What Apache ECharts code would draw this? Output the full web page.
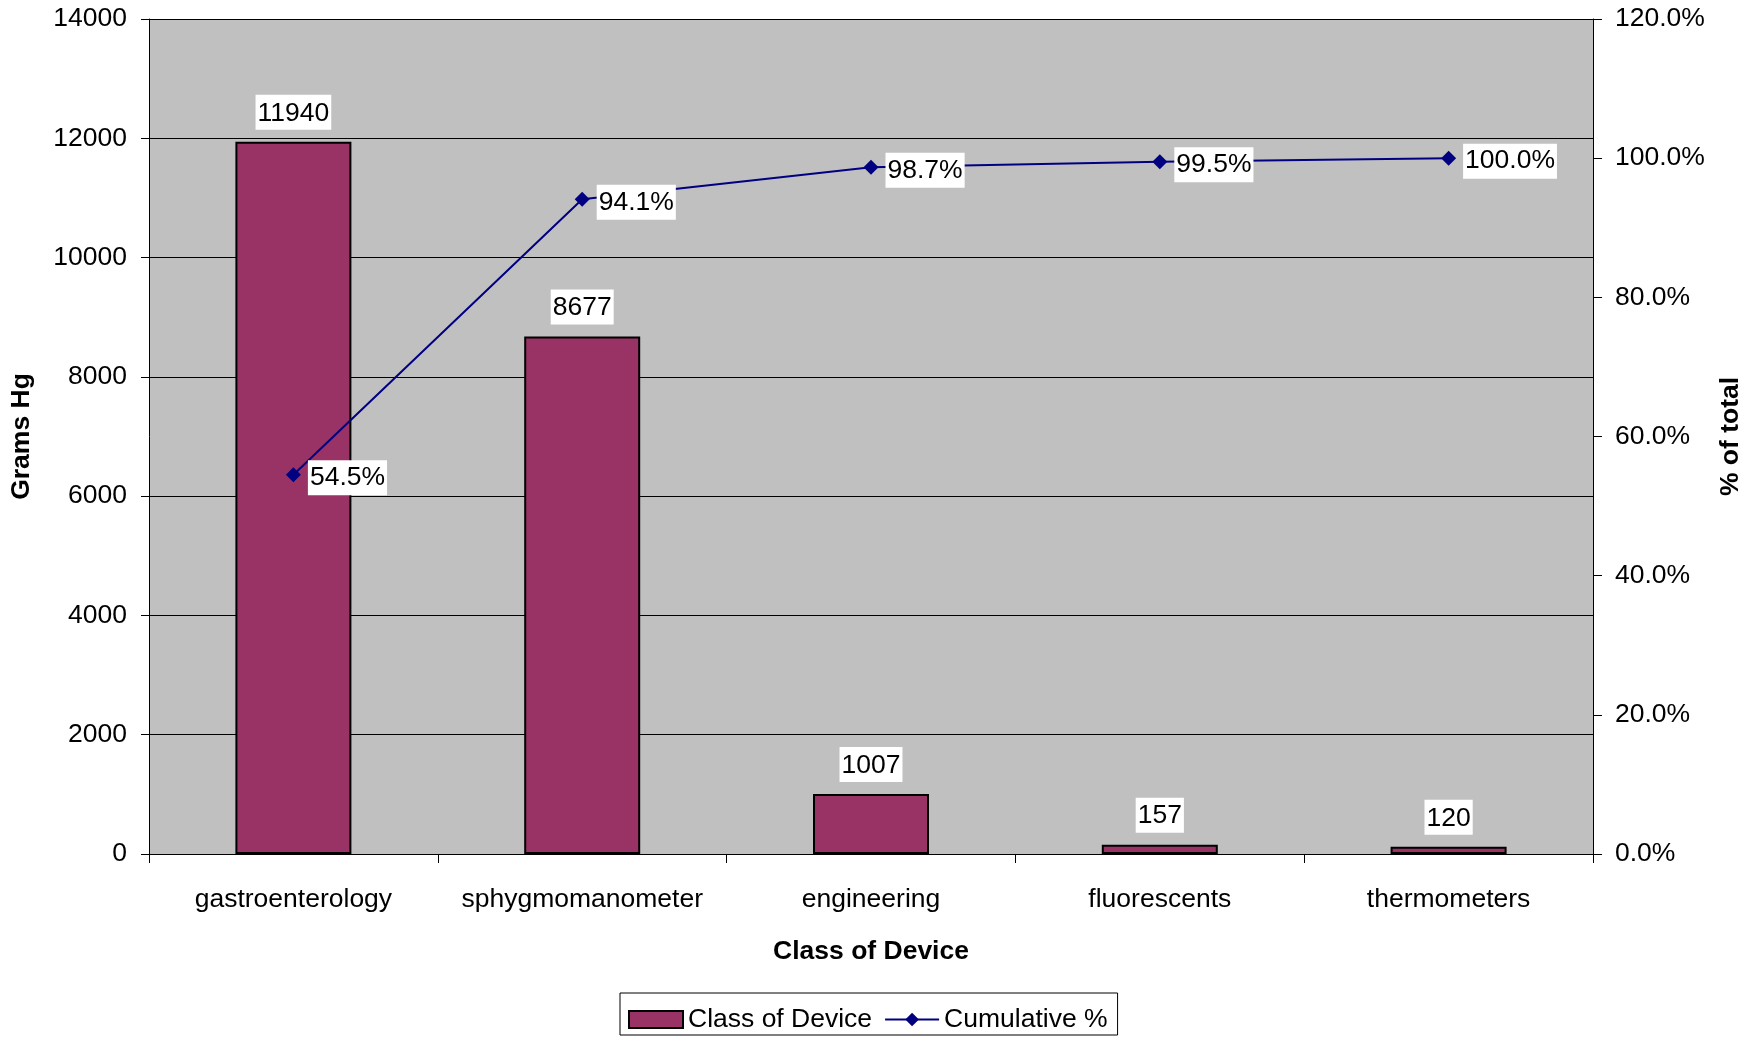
<!DOCTYPE html>
<html>
<head>
<meta charset="utf-8">
<style>
  html, body { margin: 0; padding: 0; background: #ffffff; }
  #chart { width: 1760px; height: 1037px; }
</style>
<script src="https://cdn.jsdelivr.net/npm/echarts@6/dist/echarts.min.js"></script>
</head>
<body>
<div id="chart"></div>
<script>
// Mercury content by device class, with running share of the total
const categories = ['gastroenterology', 'sphygmomanometer', 'engineering', 'fluorescents', 'thermometers'];
const gramsHg = [11940, 8677, 1007, 157, 120];
const cumulativePct = [54.5, 94.1, 98.7, 99.5, 100.0];
const leftTicks = { min: 0, max: 14000, step: 2000 };
const rightTicks = { min: 0, max: 120, step: 20 };

const FONT = '"Liberation Sans", Arial, sans-serif';
const FS = 26.5;

const chart = echarts.init(document.getElementById('chart'), null, { renderer: 'canvas' });

chart.setOption({
  animation: false,
  backgroundColor: '#ffffff',
  textStyle: { fontFamily: FONT, color: '#000000' },
  grid: {
    left: 149, right: 167, top: 19, bottom: 183,
    outerBoundsMode: 'none',
    containLabel: false,
    show: true, backgroundColor: '#c0c0c0', borderWidth: 0
  },
  legend: {
    left: 620, top: 993,
    padding: [13, 10, 2, 8],
    itemGap: 12,
    itemWidth: 54, itemHeight: 17,
    backgroundColor: '#ffffff',
    borderColor: '#000000', borderWidth: 1, borderRadius: 0,
    textStyle: { fontFamily: FONT, fontSize: FS, color: '#000000', padding: [0, 0, 0, 0] },
    data: [
      { name: 'Class of Device', icon: 'rect' },
      { name: 'Cumulative %' }
    ]
  },
  xAxis: {
    type: 'category',
    data: categories,
    name: 'Class of Device',
    nameLocation: 'middle',
    nameGap: 84,
    nameTextStyle: { fontFamily: FONT, fontSize: FS, fontWeight: 'bold', color: '#000000' },
    axisLine: { show: true, lineStyle: { color: '#000000', width: 1 } },
    axisTick: { show: true, length: 9, alignWithLabel: false, lineStyle: { color: '#000000' } },
    axisLabel: { interval: 0, fontFamily: FONT, fontSize: FS, color: '#000000', margin: 32 },
    splitLine: { show: false }
  },
  yAxis: [
    {
      type: 'value',
      min: leftTicks.min, max: leftTicks.max, interval: leftTicks.step,
      name: 'Grams Hg',
      nameLocation: 'middle',
      nameRotate: 90,
      nameGap: 114,
      nameTextStyle: { fontFamily: FONT, fontSize: FS, fontWeight: 'bold', color: '#000000' },
      axisLine: { show: true, lineStyle: { color: '#000000', width: 1 } },
      axisTick: { show: true, length: 8, lineStyle: { color: '#000000' } },
      axisLabel: {
        fontFamily: FONT, fontSize: FS, color: '#000000', margin: 22,
        formatter: v => String(v)
      },
      splitLine: { show: true, lineStyle: { color: '#000000', width: 1 } }
    },
    {
      type: 'value',
      min: rightTicks.min, max: rightTicks.max, interval: rightTicks.step,
      position: 'right',
      name: '% of total',
      nameLocation: 'middle',
      nameRotate: 90,
      nameGap: 124,
      nameTextStyle: { fontFamily: FONT, fontSize: FS, fontWeight: 'bold', color: '#000000' },
      axisLine: { show: true, lineStyle: { color: '#000000', width: 1 } },
      axisTick: { show: true, length: 9, lineStyle: { color: '#000000' } },
      axisLabel: {
        fontFamily: FONT, fontSize: FS, color: '#000000', margin: 22,
        formatter: v => v.toFixed(1) + '%'
      },
      splitLine: { show: false }
    }
  ],
  series: [
    {
      name: 'Class of Device',
      type: 'bar',
      yAxisIndex: 0,
      data: gramsHg,
      barWidth: 116,
      itemStyle: { color: '#993366', borderColor: '#000000', borderWidth: 2 },
      label: {
        show: true,
        position: 'top',
        distance: 12,
        fontFamily: FONT, fontSize: FS, color: '#000000',
        backgroundColor: '#ffffff',
        padding: [5, 2, 3, 2]
      },
      z: 2
    },
    {
      name: 'Cumulative %',
      type: 'line',
      yAxisIndex: 1,
      data: cumulativePct,
      symbol: 'diamond',
      symbolSize: 15,
      lineStyle: { color: '#000080', width: 2 },
      itemStyle: { color: '#000080' },
      label: {
        show: true,
        position: 'right',
        distance: 7,
        offset: [0, 3],
        fontFamily: FONT, fontSize: FS, color: '#000000',
        backgroundColor: '#ffffff',
        padding: [5, 2, 3, 2],
        formatter: p => p.value.toFixed(1) + '%'
      },
      z: 5
    }
  ]
});
</script>
</body>
</html>
